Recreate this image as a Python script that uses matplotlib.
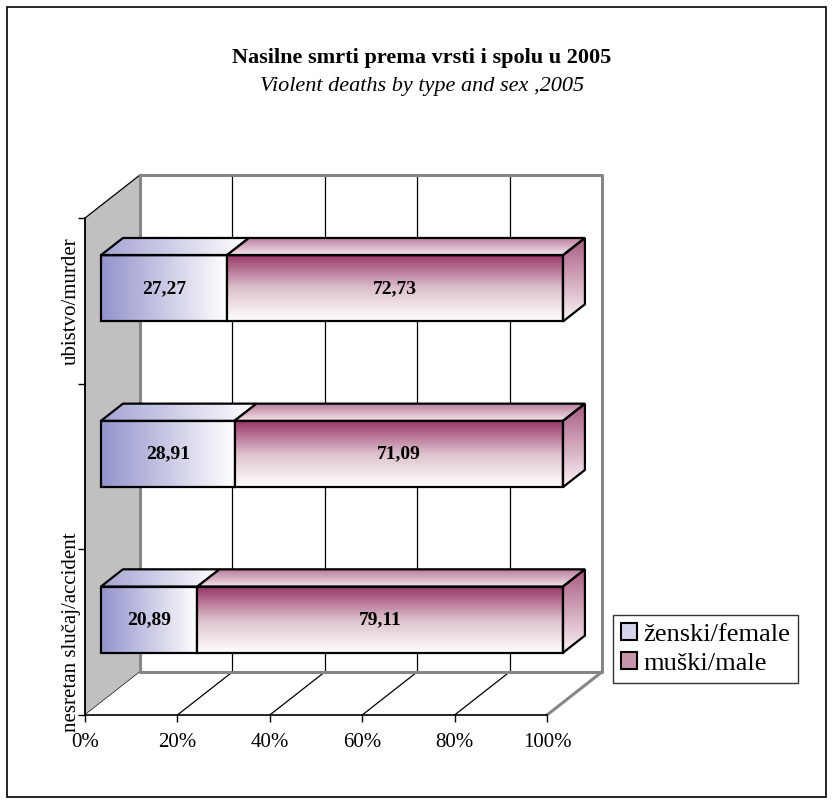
import numpy as np
import matplotlib
matplotlib.use("Agg")
import matplotlib.pyplot as plt
from matplotlib.patches import Polygon, Rectangle, Patch
from matplotlib.colors import LinearSegmentedColormap

plt.rcParams['font.family'] = ['Liberation Serif', 'DejaVu Serif']

# data
tick_labels = ["nesretan slučaj/accident", "", "ubistvo/murder"]
female = [20.89, 28.91, 27.27]
male = [79.11, 71.09, 72.73]
series_names = ["ženski/female", "muški/male"]
x_ticks = [0, 20, 40, 60, 80, 100]

# fake 3d geometry (in data units)
DX, DY = 11.9, 0.26        # full depth offset of the walls
F0, F1 = 0.29, 0.69        # depth of bar front / back
HALF = 0.2                 # half bar height

cm_f = LinearSegmentedColormap.from_list('f', ['#9393cc', '#ffffff'])
cm_f_top = LinearSegmentedColormap.from_list('ft', ['#a3a3d4', '#ffffff'])
cm_m = LinearSegmentedColormap.from_list('m', ['#ffffff', '#dcc0cc', '#993366'])
cm_m_top = LinearSegmentedColormap.from_list('mt', ['#f4e6ec', '#b8799a'])
cm_m_side = LinearSegmentedColormap.from_list('ms', ['#fbf4f7', '#a85a80'])

fig = plt.figure(figsize=(8.34, 8.09), dpi=100)
ax = fig.add_axes([85 / 834, 1 - 715 / 809, 462 / 834, 497 / 809])
ax.set_xlim(0, 100)
ax.set_ylim(-0.5, 2.5)
ax.set_autoscale_on(False)
ax.patch.set_alpha(0)


def grad_poly(verts, cmap, horizontal, z):
    poly = Polygon(verts, closed=True, facecolor='none', edgecolor='black',
                   lw=1.6, zorder=z + 0.1, clip_on=False, joinstyle='miter')
    ax.add_patch(poly)
    xs = [v[0] for v in verts]
    ys = [v[1] for v in verts]
    g = np.linspace(0, 1, 256)
    data = g.reshape(1, -1) if horizontal else g.reshape(-1, 1)
    im = ax.imshow(data, cmap=cmap, extent=(min(xs), max(xs), min(ys), max(ys)),
                   origin='lower', aspect='auto', interpolation='bilinear', zorder=z)
    im.set_clip_path(poly)
    im.set_clip_box(fig.bbox)


# walls and floor
bot, top = -0.5, 2.5
ax.add_patch(Polygon([(0, bot), (DX, bot + DY), (DX, top + DY), (0, top)],
                     facecolor='#c0c0c0', edgecolor='black', lw=0.9, clip_on=False, zorder=1))
ax.add_patch(Polygon([(0, bot), (100, bot), (100 + DX, bot + DY), (DX, bot + DY)],
                     facecolor='white', edgecolor='none', clip_on=False, zorder=1))
for x in x_ticks[1:-1]:
    ax.plot([x + DX, x + DX], [bot + DY, top + DY], color='black', lw=0.9, clip_on=False, zorder=2)
    ax.plot([x, x + DX], [bot, bot + DY], color='black', lw=0.9, clip_on=False, zorder=2)
gray = '#868686'
ax.plot([DX, 100 + DX, 100 + DX, DX, DX], [top + DY, top + DY, bot + DY, bot + DY, top + DY],
        color=gray, lw=2.2, clip_on=False, zorder=2)
ax.plot([100, 100 + DX], [bot, bot + DY], color=gray, lw=2.2, clip_on=False, zorder=2)

# bars
ox0, oy0 = F0 * DX, F0 * DY
ox1, oy1 = F1 * DX, F1 * DY
for i in range(len(female)):
    y0 = i - HALF + oy0
    y1 = i + HALF + oy0
    segs = [(0, female[i], cm_f, cm_f_top, True),
            (female[i], female[i] + male[i], cm_m, cm_m_top, False)]
    for k, (a, b, cm, cmt, horiz) in enumerate(segs):
        xa, xb = a + ox0, b + ox0
        z = 5 + k
        # top face
        grad_poly([(xa, y1), (xb, y1), (xb + ox1 - ox0, y1 + oy1 - oy0),
                   (xa + ox1 - ox0, y1 + oy1 - oy0)], cmt, horiz, z)
        # front face
        grad_poly([(xa, y0), (xb, y0), (xb, y1), (xa, y1)], cm, horiz, z)
        if k == 1:
            grad_poly([(xb, y0), (xb + ox1 - ox0, y0 + oy1 - oy0),
                       (xb + ox1 - ox0, y1 + oy1 - oy0), (xb, y1)], cm_m_side, False, z)
        val = female[i] if k == 0 else male[i]
        ax.text((xa + xb) / 2, (y0 + y1) / 2, f"{val:.2f}".replace('.', ','),
                ha='center', va='center', fontsize=14, fontweight='bold', zorder=10)

# axes
for s in ['top', 'right']:
    ax.spines[s].set_visible(False)
for s in ['left', 'bottom']:
    ax.spines[s].set_linewidth(1.2)
    ax.spines[s].set_zorder(3)
ax.set_xticks(x_ticks)
ax.set_xticklabels([f"{t}%" for t in x_ticks], fontsize=15)
ax.set_yticks([-0.5, 0.5, 1.5, 2.5])
ax.set_yticklabels([])
ax.set_yticks([0, 1, 2], minor=True)
ax.set_yticklabels(tick_labels, minor=True, rotation=90, va='center', fontsize=15)
ax.tick_params(axis='both', which='major', direction='out', length=5, width=1)
ax.tick_params(axis='x', pad=8)
ax.tick_params(axis='y', which='minor', length=0, pad=3)

# legend
handles = [Patch(facecolor='#d4d4ec', edgecolor='black', lw=1.5),
           Patch(facecolor='#c896ac', edgecolor='black', lw=1.5)]
leg = fig.legend(handles, series_names, loc='upper left',
                 bbox_to_anchor=(613 / 834, 1 - 615 / 809), borderaxespad=0,
                 fancybox=False, edgecolor='black', fontsize=19,
                 handlelength=0.6, handleheight=0.6, handletextpad=0.25,
                 labelspacing=0.25, borderpad=0.3)
leg.get_frame().set_linewidth(1.0)

# titles
fig.text(0.506, 1 - 58 / 809, "Nasilne smrti prema vrsti i spolu u 2005",
         ha='center', va='center', fontsize=16, fontweight='bold')
fig.text(0.506, 1 - 86 / 809, "Violent deaths by type and sex ,2005",
         ha='center', va='center', fontsize=16, style='italic')

# chart area border
fig.patches.append(Rectangle((7 / 834, 1 - 797 / 809), 819 / 834, 790 / 809,
                             transform=fig.transFigure, fill=False,
                             edgecolor='black', lw=1.2))

fig.savefig("out.png", dpi=100)
